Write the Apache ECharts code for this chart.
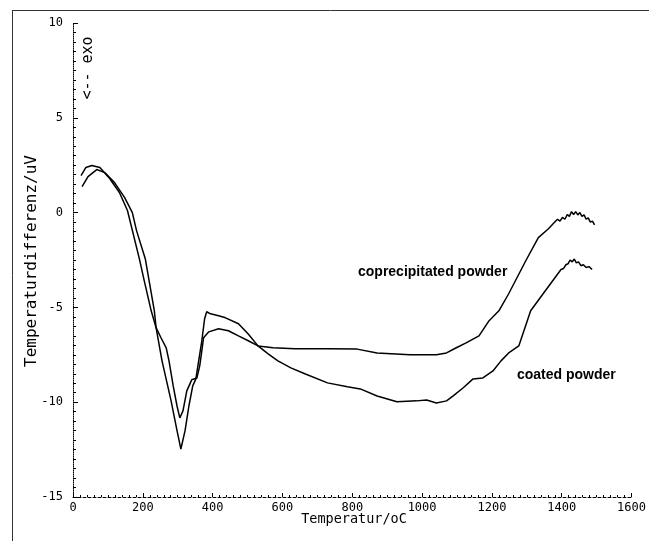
<!DOCTYPE html>
<html>
<head>
<meta charset="utf-8">
<script src="https://cdn.jsdelivr.net/npm/echarts@6/dist/echarts.min.js"></script>
<style>html,body{margin:0;padding:0;background:#fff}#c{width:649px;height:541px}</style>
</head>
<body>
<div id="c"></div>
<script>
// X: temperature (°C), Y: Temperaturdifferenz (uV)
const xTicks = [0, 200, 400, 600, 800, 1000, 1200, 1400, 1600];
const yTicks = [-15, -10, -5, 0, 5, 10];

const coprecipitatedT = [23, 37, 54, 77, 105, 133, 156, 190, 204, 224, 238, 252, 267, 275, 287, 298, 306, 315, 326, 340, 355, 363, 369, 374, 389, 417, 445, 474, 502, 530, 573, 636, 729, 814, 871, 965, 1041, 1070, 1098, 1126, 1163, 1192, 1220, 1248, 1297, 1333, 1362, 1380, 1388, 1395, 1402, 1409, 1416, 1422, 1428, 1434, 1440, 1446, 1452, 1458, 1464, 1470, 1476, 1482, 1488, 1494];
const coprecipitatedV = [1.95, 2.38, 2.48, 2.38, 1.80, 1.06, 0.11, -2.43, -3.59, -5.18, -6.07, -6.6, -7.13, -7.82, -9.14, -10.2, -10.83, -10.46, -9.4, -8.82, -8.72, -8.08, -7.29, -6.6, -6.29, -6.13, -6.23, -6.5, -6.76, -7.03, -7.13, -7.18, -7.18, -7.2, -7.4, -7.5, -7.5, -7.4, -7.13, -6.87, -6.5, -5.7, -5.18, -4.28, -2.54, -1.32, -0.85, -0.5, -0.35, -0.45, -0.25, -0.35, -0.1, -0.2, 0.05, -0.1, 0.05, -0.12, 0.0, -0.2, -0.12, -0.35, -0.28, -0.5, -0.45, -0.65];

const coatedT = [26, 43, 68, 91, 119, 148, 170, 182, 207, 218, 233, 238, 255, 281, 298, 309, 321, 332, 343, 352, 360, 369, 377, 383, 394, 417, 437, 474, 502, 530, 559, 587, 624, 664, 729, 786, 823, 871, 928, 984, 1013, 1041, 1070, 1089, 1118, 1146, 1174, 1203, 1226, 1248, 1277, 1311, 1353, 1390, 1398, 1405, 1412, 1418, 1424, 1430, 1436, 1442, 1448, 1455, 1462, 1470, 1478, 1487];
const coatedV = [1.37, 1.9, 2.27, 2.11, 1.58, 0.79, 0.0, -0.95, -2.43, -3.59, -5.18, -6.07, -7.82, -9.93, -11.5, -12.47, -11.5, -10.2, -9.14, -8.77, -7.82, -6.76, -5.6, -5.23, -5.34, -5.44, -5.55, -5.86, -6.4, -7.03, -7.45, -7.82, -8.19, -8.5, -8.98, -9.19, -9.3, -9.67, -9.98, -9.93, -9.88, -10.04, -9.93, -9.67, -9.24, -8.77, -8.72, -8.35, -7.82, -7.4, -7.03, -5.18, -4.12, -3.2, -3.0, -2.95, -2.75, -2.7, -2.5, -2.6, -2.45, -2.65, -2.6, -2.8, -2.75, -2.9, -2.85, -3.0];

const seriesNames = ['coprecipitated powder', 'coated powder'];
const yTitle = 'Temperaturdifferenz/uV';
const xTitle = 'Temperatur/oC';
const exoText = '<-- exo';

const zip = (a, b) => a.map((t, i) => [t, b[i]]);

const chart = echarts.init(document.getElementById('c'), null, {renderer: 'canvas'});
const mono = 'DejaVu Sans Mono';
chart.setOption({
  animation: false,
  backgroundColor: '#fff',
  grid: {left: 73, right: 12, top: 23, bottom: 44},
  xAxis: {
    type: 'value', min: xTicks[0], max: xTicks[xTicks.length - 1], interval: 200,
    axisLine: {show: true, onZero: false, lineStyle: {color: '#000', width: 1, type: [3, 2]}},
    axisTick: {show: true, inside: true, length: 4, lineStyle: {color: '#000'}},
    minorTick: {show: true, splitNumber: 10, length: 2, lineStyle: {color: '#000'}},
    splitLine: {show: false},
    axisLabel: {color: '#000', fontFamily: mono, fontSize: 12, margin: 5, formatter: v => String(v)}
  },
  yAxis: {
    type: 'value', min: yTicks[0], max: yTicks[yTicks.length - 1], interval: 5,
    axisLine: {show: true, onZero: false, lineStyle: {color: '#000', width: 1, type: 'dotted'}},
    axisTick: {show: true, inside: true, length: 5, lineStyle: {color: '#000'}},
    minorTick: {show: true, splitNumber: 10, length: 3, lineStyle: {color: '#000'}},
    splitLine: {show: false},
    axisLabel: {color: '#000', fontFamily: mono, fontSize: 12, margin: 10, formatter: v => String(v)}
  },
  series: [
    {name: seriesNames[0], type: 'line', data: zip(coprecipitatedT, coprecipitatedV), showSymbol: false,
     lineStyle: {color: '#000', width: 1.5}, smooth: false},
    {name: seriesNames[1], type: 'line', data: zip(coatedT, coatedV), showSymbol: false,
     lineStyle: {color: '#000', width: 1.5}, smooth: false}
  ],
  graphic: [
    {type: 'line', shape: {x1: 12, y1: 10.5, x2: 649, y2: 10.5}, style: {stroke: '#333', lineWidth: 1}},
    {type: 'line', shape: {x1: 12.5, y1: 10, x2: 12.5, y2: 541}, style: {stroke: '#333', lineWidth: 1}},
    {type: 'text', x: 32, y: 261, rotation: Math.PI / 2,
     style: {text: yTitle, font: '16px "DejaVu Sans Mono"', fill: '#000', textAlign: 'center', textVerticalAlign: 'middle'}},
    {type: 'text', x: 354, y: 519,
     style: {text: xTitle, font: '13.5px "DejaVu Sans Mono"', fill: '#000', textAlign: 'center', textVerticalAlign: 'middle'}},
    {type: 'text', x: 88, y: 68, rotation: Math.PI / 2,
     style: {text: exoText, font: '15px "DejaVu Sans Mono"', fill: '#000', textAlign: 'center', textVerticalAlign: 'middle'}},
    {type: 'text', x: 358, y: 272,
     style: {text: seriesNames[0], font: 'bold 14px "Liberation Sans"', fill: '#000', textAlign: 'left', textVerticalAlign: 'middle'}},
    {type: 'text', x: 517, y: 375,
     style: {text: seriesNames[1], font: 'bold 14px "Liberation Sans"', fill: '#000', textAlign: 'left', textVerticalAlign: 'middle'}}
  ]
});
</script>
</body>
</html>
